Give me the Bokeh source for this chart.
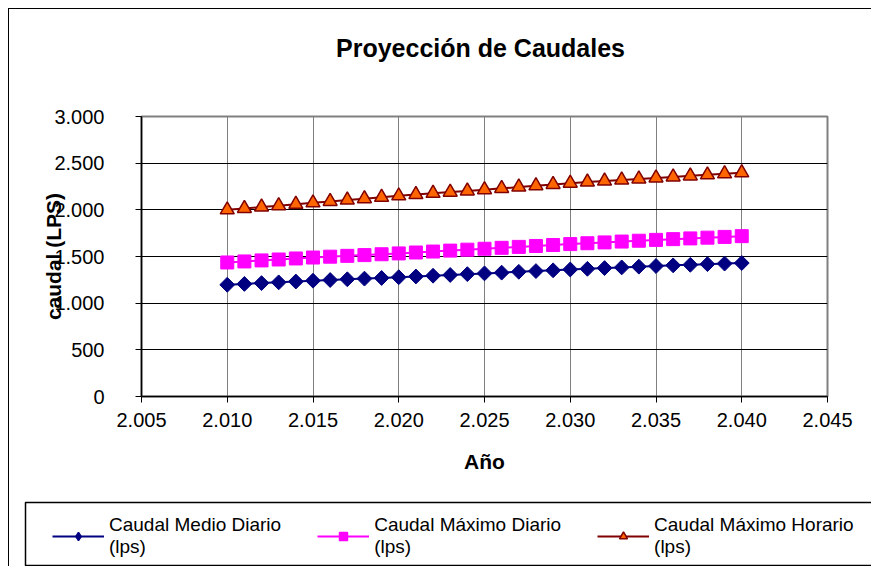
import numpy as np
from bokeh.plotting import figure
from bokeh.layouts import column
from bokeh.models import Range1d, FixedTicker, Legend, LegendItem, Label
from bokeh.embed import file_html
from bokeh.resources import INLINE

# ---------------- data ----------------
years = list(range(2010, 2041))
caudal_medio = [1197, 1206, 1215, 1223, 1232, 1241, 1248, 1256, 1263, 1270,
                1278, 1286, 1294, 1302, 1311, 1319, 1327, 1336, 1344, 1352,
                1361, 1368, 1376, 1383, 1391, 1398, 1405, 1411, 1418, 1424, 1430]
caudal_max_diario = [1436, 1447, 1458, 1468, 1479, 1489, 1498, 1507, 1515, 1524,
                     1533, 1543, 1553, 1563, 1573, 1583, 1593, 1603, 1613, 1623,
                     1633, 1642, 1651, 1660, 1669, 1678, 1686, 1694, 1702, 1710, 1718]
caudal_max_horario = [2000, 2015, 2030, 2045, 2060, 2075, 2090, 2105, 2120, 2135,
                      2150, 2164, 2177, 2190, 2203, 2216, 2230, 2244, 2258, 2272,
                      2286, 2298, 2309, 2320, 2331, 2342, 2353, 2364, 2375, 2386, 2397]
series_names = ["Caudal Medio Diario\n(lps)",
                "Caudal Máximo Diario\n(lps)",
                "Caudal Máximo Horario\n(lps)"]
series_colors = ["#000080", "#FF00FF", "#800000"]
marker_fills = ["#000080", "#FF00FF", "#FF6600"]
x_ticks = [2005, 2010, 2015, 2020, 2025, 2030, 2035, 2040, 2045]
x_tick_labels = ["2.005", "2.010", "2.015", "2.020", "2.025", "2.030", "2.035", "2.040", "2.045"]
y_ticks = [0, 500, 1000, 1500, 2000, 2500, 3000]
y_tick_labels = ["0", "500", "1.000", "1.500", "2.000", "2.500", "3.000"]
title_text = "Proyección de Caudales"
x_title = "Año"
y_title = "caudal (LPS)"

series = [caudal_medio, caudal_max_diario, caudal_max_horario]
FONT = "Liberation Sans"
W = 862


def bare(fig):
    fig.axis.visible = False
    fig.grid.visible = False
    fig.outline_line_color = None
    fig.background_fill_color = "white"
    fig.border_fill_color = "white"
    fig.min_border_left = 0
    fig.min_border_right = 0
    fig.min_border_top = 0
    fig.min_border_bottom = 0


# ---------------- header (title) ----------------
ph = figure(width=W, height=60, x_range=Range1d(0, W), y_range=Range1d(0, 60),
            output_backend="svg", toolbar_location=None, frame_align=False)
bare(ph)
ph.add_layout(Label(x=471, y=22, text=title_text, text_align="center",
                    text_baseline="middle", text_font=FONT, text_font_size="25px",
                    text_font_style="bold", text_color="#000000"))

# ---------------- main chart ----------------
p = figure(width=W, height=421,
           x_range=Range1d(x_ticks[0], x_ticks[-1]),
           y_range=Range1d(y_ticks[0], y_ticks[-1]),
           output_backend="svg", toolbar_location=None, frame_align=False,
           min_border_left=132, min_border_right=44,
           min_border_top=47, min_border_bottom=94)
p.background_fill_color = "white"
p.border_fill_color = "white"
p.outline_line_color = "#808080"
p.outline_line_width = 2

p.xaxis.ticker = FixedTicker(ticks=x_ticks)
p.xaxis.major_label_overrides = {t: l for t, l in zip(x_ticks, x_tick_labels)}
p.yaxis.ticker = FixedTicker(ticks=y_ticks)
p.yaxis.major_label_overrides = {t: l for t, l in zip(y_ticks, y_tick_labels)}
for ax in (p.xaxis[0], p.yaxis[0]):
    ax.axis_line_color = "#000000"
    ax.axis_line_width = 1.5
    ax.major_tick_line_color = "#000000"
    ax.major_tick_in = 0
    ax.major_tick_out = 6
    ax.minor_tick_line_color = None
    ax.major_label_text_font = FONT
    ax.major_label_text_font_size = "20px"
    ax.major_label_text_color = "#000000"
    ax.axis_label_text_font = FONT
    ax.axis_label_text_font_size = "21px"
    ax.axis_label_text_font_style = "bold"
    ax.axis_label_text_color = "#000000"
p.xaxis.major_label_standoff = 10
p.xaxis.axis_label = x_title
p.xaxis.axis_label_standoff = 20
p.yaxis.major_label_standoff = 31
p.yaxis.axis_label = y_title
p.yaxis.axis_label_standoff = -14

p.xgrid.grid_line_color = "#808080"
p.xgrid.grid_line_width = 1
p.ygrid.grid_line_color = "#000000"
p.ygrid.grid_line_width = 1

p.line(years, caudal_medio, line_color=series_colors[0], line_width=2)
p.scatter(years, caudal_medio, marker="square", angle=np.pi / 4, size=10.5,
          fill_color=marker_fills[0], line_color=series_colors[0])
p.line(years, caudal_max_diario, line_color=series_colors[1], line_width=2)
p.scatter(years, caudal_max_diario, marker="square", size=13,
          fill_color=marker_fills[1], line_color=series_colors[1])
p.line(years, caudal_max_horario, line_color=series_colors[2], line_width=2)
p.scatter(years, caudal_max_horario, marker="triangle", size=14,
          fill_color=marker_fills[2], line_color=series_colors[2], line_width=1.5)

# ---------------- legend strip ----------------
pl = figure(width=W, height=76, x_range=Range1d(0, W), y_range=Range1d(0, 76),
            output_backend="svg", toolbar_location=None, frame_align=False)
bare(pl)
pl.quad(left=[16], right=[W + 40], top=[64], bottom=[1],
        fill_color=None, line_color="#000000", line_width=1.5)
markers = ["diamond", "square", "triangle"]
sizes = [13, 10, 10]
items = []
for i in range(3):
    # series drawn here only to feed the legend; their data lie outside this strip's ranges
    lr = pl.line(years, series[i], line_color=series_colors[i], line_width=2)
    mr = pl.scatter(years, series[i], marker=markers[i], size=sizes[i],
                    fill_color=marker_fills[i], line_color=series_colors[i], line_width=1.5)
    items.append(LegendItem(label=series_names[i], renderers=[lr, mr]))
legend = Legend(items=items, orientation="horizontal", location=(43, 8), margin=0,
                glyph_width=52, glyph_height=20, label_standoff=5, spacing=36,
                padding=4, border_line_color=None, background_fill_alpha=0,
                label_text_font=FONT, label_text_font_size="19px",
                label_text_color="#000000")
pl.add_layout(legend, "center")

layout = column(ph, p, pl, spacing=0,
                styles={"margin-left": "8px", "margin-top": "8px",
                        "border-top": "1px solid #000000",
                        "border-left": "1px solid #000000"})

open("out.html", "w").write(file_html(layout, INLINE))
